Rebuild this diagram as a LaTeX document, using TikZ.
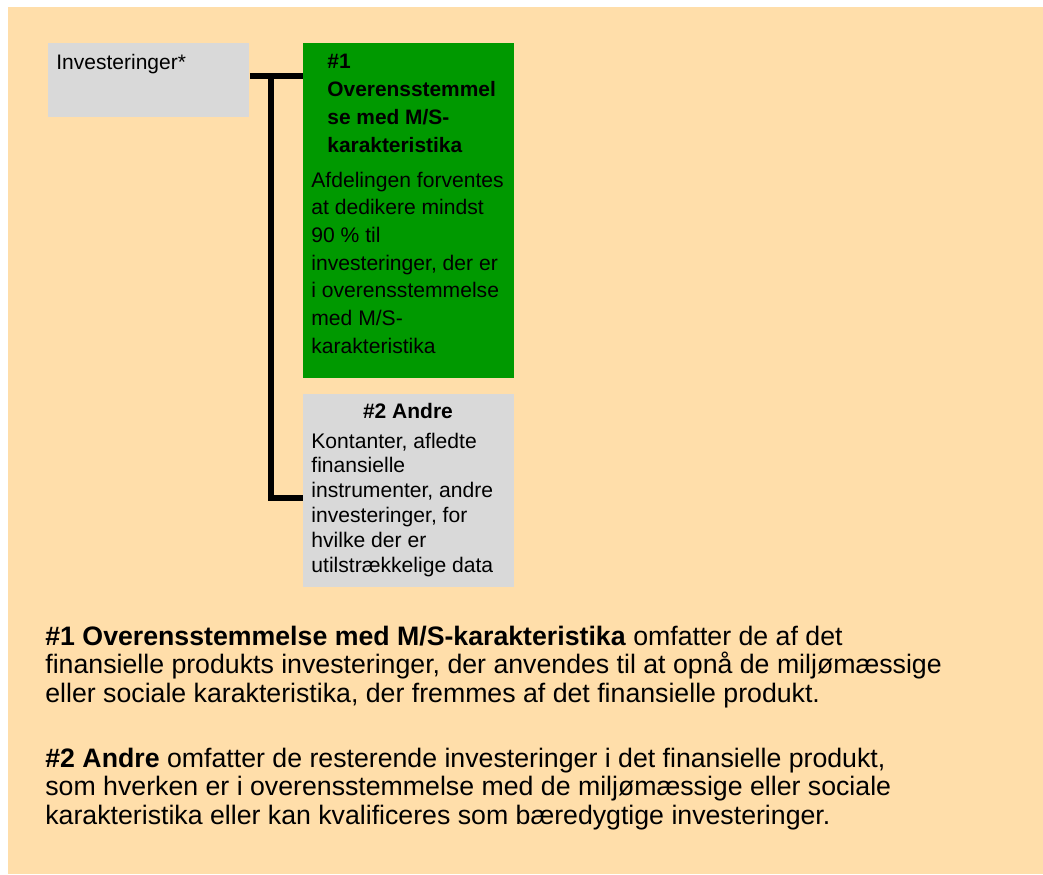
\documentclass[tikz,border=0pt]{standalone}
\usepackage{fontspec}
\setmainfont{Liberation Sans}
\definecolor{bgbeige}{HTML}{FFDEAA}
\definecolor{boxgreen}{HTML}{009900}
\definecolor{boxgray}{HTML}{D9D9D9}
\newcommand{\txtblock}[4]{\parbox[t]{#1}{\raggedright\fontsize{#2}{#3}\selectfont #4}}
\tikzset{
  box/.style={draw=none, inner sep=0pt, anchor=north west},
  txt/.style={inner sep=0pt, anchor=base west, text=black},
  conn/.style={line width=3pt, black},
}
\begin{document}
\begin{tikzpicture}[x=0.5pt, y=-0.5pt]
\useasboundingbox (0,0) rectangle (1043,874);
\fill[white] (0,0) rectangle (1043,874);
\fill[bgbeige] (8,7) rectangle (1043,874);
% boxes
\node[box, fill=boxgray, minimum width=100.5pt, minimum height=37pt] (inv) at (48,43) {};
\node[box, fill=boxgreen, minimum width=105.5pt, minimum height=167.5pt] (g1) at (303,43) {};
\node[box, fill=boxgray, minimum width=105.5pt, minimum height=96.5pt] (g2) at (303,394) {};
% texts
\node[txt] (invt) at (56,69) {\fontsize{10.5}{12}\selectfont Investeringer*};
\node[txt] (g1h) at (327,68) {\txtblock{100pt}{10.45}{14}{\bfseries \#1\\Overensstemmel\\se med M/S-\\karakteristika}};
\node[txt] (g1b) at (311,187) {\txtblock{100pt}{10.55}{13.85}{Afdelingen forventes\\at dedikere mindst\\90 \% til\\investeringer, der er\\i overensstemmelse\\med M/S-\\karakteristika}};
\node[inner sep=0pt, anchor=base] (g2h) at (408,418) {\fontsize{10.5}{12}\selectfont\bfseries \#2 Andre};
\node[txt] (g2b) at (311,448) {\txtblock{100pt}{10.55}{12.4}{Kontanter, afledte\\finansielle\\instrumenter, andre\\investeringer, for\\hvilke der er\\utilstrækkelige data}};
% connectors
\coordinate (j) at (271,76);
\coordinate (b) at (303,498);
\draw[conn] (inv.east |- j) -- (g1.west |- j);
\draw[conn] (j) |- (g2.west |- b);
% bottom text
\node[txt] (p1) at (45,645) {\txtblock{490pt}{13.35}{14.25}{\textbf{\#1 Overensstemmelse med M/S-karakteristika} omfatter de af det\\finansielle produkts investeringer, der anvendes til at opnå de miljømæssige\\eller sociale karakteristika, der fremmes af det finansielle produkt.}};
\node[txt] (p2) at (45,767) {\txtblock{490pt}{13.35}{14.25}{\textbf{\#2 Andre} omfatter de resterende investeringer i det finansielle produkt,\\som hverken er i overensstemmelse med de miljømæssige eller sociale\\karakteristika eller kan kvalificeres som bæredygtige investeringer.}};
\end{tikzpicture}
\end{document}
